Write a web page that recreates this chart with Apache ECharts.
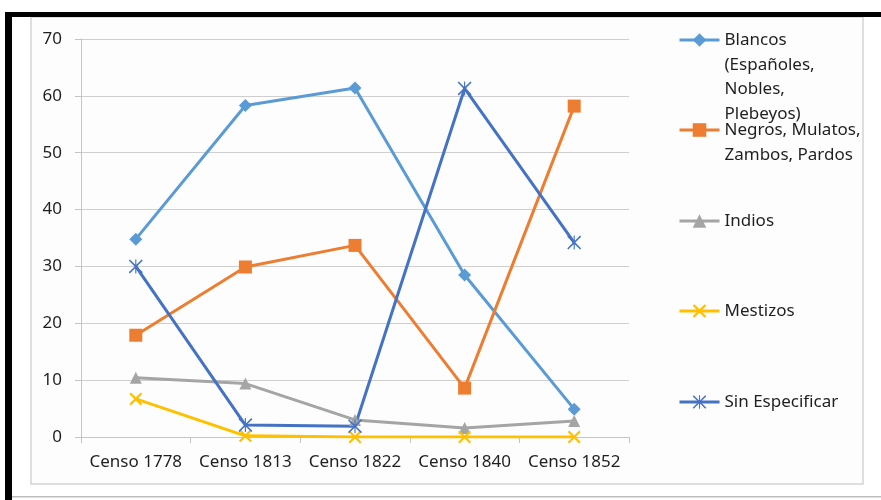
<!DOCTYPE html>
<html>
<head>
<meta charset="utf-8">
<script src="https://cdn.jsdelivr.net/npm/echarts@6/dist/echarts.min.js"></script>
<style>
html,body{margin:0;padding:0;background:#fff;}
#c{width:881px;height:500px;}
</style>
</head>
<body>
<div id="c"></div>
<script>
var categories = ['Censo 1778', 'Censo 1813', 'Censo 1822', 'Censo 1840', 'Censo 1852'];
var blancos = [34.8, 58.3, 61.4, 28.5, 4.9];
var negros = [17.9, 29.9, 33.7, 8.6, 58.2];
var indios = [10.4, 9.4, 3.0, 1.6, 2.8];
var mestizos = [6.7, 0.2, 0.0, 0.0, 0.0];
var sinEspecificar = [30.0, 2.1, 1.9, 61.3, 34.2];
var seriesNames = ['Blancos\n(Españoles,\nNobles,\nPlebeyos)', 'Negros, Mulatos,\nZambos, Pardos', 'Indios', 'Mestizos', 'Sin Especificar'];
var yTicks = [0, 10, 20, 30, 40, 50, 60, 70];

var FONT = 'Noto Sans';
var LH = 24.7;
var xPath = 'path://M0,0.12 L0.12,0 L0.5,0.38 L0.88,0 L1,0.12 L0.62,0.5 L1,0.88 L0.88,1 L0.5,0.62 L0.12,1 L0,0.88 L0.38,0.5 Z';
var starPath = 'path://M0,0.08 L0.08,0 L0.5,0.42 L0.92,0 L1,0.08 L0.58,0.5 L1,0.92 L0.92,1 L0.5,0.58 L0.08,1 L0,0.92 L0.42,0.5 Z M0.46,0 L0.54,0 L0.54,1 L0.46,1 Z';

var colors = ['#5B9BD5', '#ED7D31', '#A5A5A5', '#FFC000', '#4472C4'];
var symbols = ['diamond', 'rect', 'triangle', xPath, starPath];
var sizes = [13, 13, 12, 13, 14];
var dataArr = [blancos, negros, indios, mestizos, sinEspecificar];
var legendCenters = [40, 130, 221, 311, 402];

var series = seriesNames.map(function (n, i) {
  return {
    name: n, type: 'line', data: dataArr[i],
    symbol: symbols[i], symbolSize: sizes[i], showAllSymbol: true,
    color: colors[i],
    lineStyle: { width: 3, color: colors[i] },
    itemStyle: { color: colors[i] },
    animation: false
  };
});

var legends = seriesNames.map(function (n, i) {
  var extra = n.split('\n').length - 1;
  var pad = new Array(extra + 1).join('\n');
  var totalLines = 2 * extra + 1;
  return {
    data: [n], left: 678, top: legendCenters[i] - totalLines * LH / 2, orient: 'vertical',
    itemWidth: 40, itemHeight: 17, itemGap: 0, padding: 0,
    selectedMode: false,
    lineStyle: { width: 3 },
    formatter: function (name) { return pad + name; },
    textStyle: { fontFamily: FONT, fontSize: 17, color: '#1f1f1f', lineHeight: LH }
  };
});

var chart = echarts.init(document.getElementById('c'), null, { renderer: 'canvas' });
chart.setOption({
  backgroundColor: '#ffffff',
  animation: false,
  graphic: [
    { type: 'rect', shape: { x: 31, y: 17, width: 832, height: 467 }, style: { fill: '#fdfdfd', stroke: '#d4d4d4', lineWidth: 1.5 }, z: -10, silent: true },
    { type: 'rect', shape: { x: 6, y: 12, width: 875, height: 5 }, style: { fill: '#000' }, z: -5, silent: true },
    { type: 'rect', shape: { x: 5, y: 12, width: 7, height: 488 }, style: { fill: '#000' }, z: -5, silent: true },
    { type: 'rect', shape: { x: 12, y: 496, width: 869, height: 1.5 }, style: { fill: '#bdbdbd' }, z: -5, silent: true }
  ],
  legend: legends,
  grid: { left: 81, right: 252, top: 39, bottom: 63, containLabel: false },
  xAxis: {
    type: 'category', data: categories, boundaryGap: true,
    axisLine: { lineStyle: { color: '#c4c4c4', width: 1 } },
    axisTick: { show: true, length: 6, lineStyle: { color: '#c4c4c4' } },
    axisLabel: { fontFamily: FONT, fontSize: 17, color: '#1f1f1f', margin: 17, interval: 0 }
  },
  yAxis: {
    type: 'value', min: yTicks[0], max: yTicks[yTicks.length - 1], interval: 10,
    axisLine: { show: true, lineStyle: { color: '#c4c4c4', width: 1 } },
    axisTick: { show: true, length: 6, lineStyle: { color: '#c4c4c4' } },
    axisLabel: { fontFamily: FONT, fontSize: 17, color: '#1f1f1f', margin: 19 },
    splitLine: { lineStyle: { color: '#cfcfcf', width: 1.2 } }
  },
  series: series
});
</script>
</body>
</html>
